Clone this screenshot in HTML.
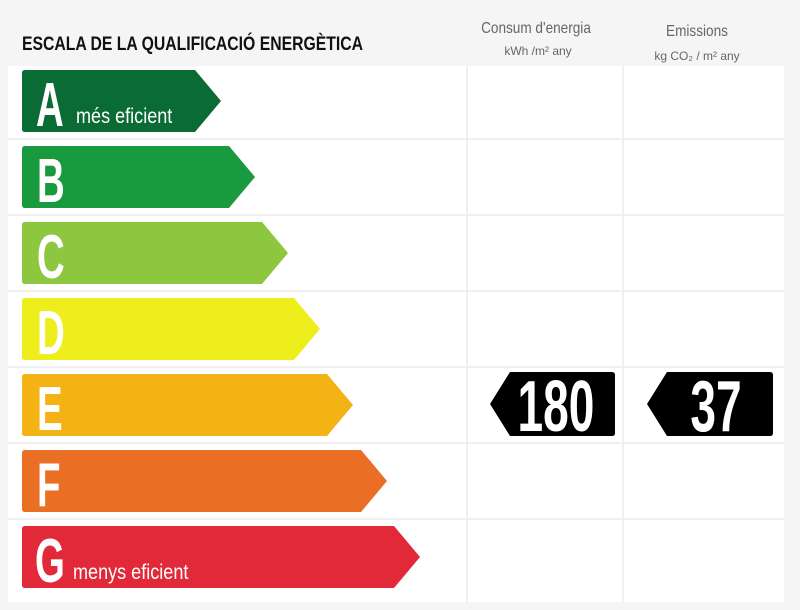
<!DOCTYPE html>
<html><head><meta charset="utf-8"><style>
body{margin:0;background:#fff}
svg{display:block}
text{font-family:"Liberation Sans",sans-serif}
</style></head><body>
<svg width="800" height="610" viewBox="0 0 800 610">
<rect width="800" height="610" fill="#f5f5f5"/>
<rect x="8" y="66" width="776" height="536" fill="#fff"/>
<g stroke="#f0f0f0" stroke-width="2">
<line x1="8" y1="139" x2="784" y2="139"/>
<line x1="8" y1="215" x2="784" y2="215"/>
<line x1="8" y1="291" x2="784" y2="291"/>
<line x1="8" y1="367" x2="784" y2="367"/>
<line x1="8" y1="443" x2="784" y2="443"/>
<line x1="8" y1="519" x2="784" y2="519"/>
<line x1="467" y1="66" x2="467" y2="602"/>
<line x1="623" y1="66" x2="623" y2="602"/>
</g>
<text x="22" y="50" font-size="19" font-weight="bold" transform="scale(0.83,1)" transform-origin="22 50" fill="#111">ESCALA DE LA QUALIFICACIÓ ENERGÈTICA</text>
<text x="536" y="33" font-size="16" fill="#666" text-anchor="middle" transform="scale(0.85,1)" transform-origin="536 33">Consum d'energia</text>
<text x="538" y="55" font-size="12" fill="#666" text-anchor="middle">kWh /m² any</text>
<text x="697" y="36" font-size="16" fill="#666" text-anchor="middle" transform="scale(0.85,1)" transform-origin="697 36">Emissions</text>
<text x="697" y="60" font-size="12" fill="#666" text-anchor="middle">kg CO₂ / m² any</text>
<g>
<path d="M25,70 H195 L221,101 L195,132 H25 Q22,132 22,129 V73 Q22,70 25,70Z" fill="#0b6b35"/>
<path d="M25,146 H229 L255,177 L229,208 H25 Q22,208 22,205 V149 Q22,146 25,146Z" fill="#1a9a3e"/>
<path d="M25,222 H262 L288,253 L262,284 H25 Q22,284 22,281 V225 Q22,222 25,222Z" fill="#8dc63f"/>
<path d="M25,298 H294 L320,329 L294,360 H25 Q22,360 22,357 V301 Q22,298 25,298Z" fill="#eeee1c"/>
<path d="M25,374 H327 L353,405 L327,436 H25 Q22,436 22,433 V377 Q22,374 25,374Z" fill="#f4b315"/>
<path d="M25,450 H361 L387,481 L361,512 H25 Q22,512 22,509 V453 Q22,450 25,450Z" fill="#ea6f25"/>
<path d="M25,526 H394 L420,557 L394,588 H25 Q22,588 22,585 V529 Q22,526 25,526Z" fill="#e1293a"/>
</g>
<g fill="#fff" font-weight="bold" font-size="62">
<text x="36" y="126" transform="scale(0.62,1)" transform-origin="36 126">A</text>
<text x="37" y="202" transform="scale(0.62,1)" transform-origin="37 202">B</text>
<text x="37" y="278" transform="scale(0.62,1)" transform-origin="37 278">C</text>
<text x="37" y="354" transform="scale(0.62,1)" transform-origin="37 354">D</text>
<text x="37" y="430" transform="scale(0.62,1)" transform-origin="37 430">E</text>
<text x="37" y="506" transform="scale(0.62,1)" transform-origin="37 506">F</text>
<text x="35" y="582" transform="scale(0.62,1)" transform-origin="35 582">G</text>
</g>
<text x="76" y="123" font-size="21" fill="#fff" transform="scale(0.86,1)" transform-origin="76 123">més eficient</text>
<text x="73" y="579" font-size="21" fill="#fff" transform="scale(0.86,1)" transform-origin="73 579">menys eficient</text>
<path d="M510,372 H612 Q615,372 615,375 V433 Q615,436 612,436 H510 L490,404Z" fill="#000"/>
<path d="M667,372 H770 Q773,372 773,375 V433 Q773,436 770,436 H667 L647,404Z" fill="#000"/>
<g fill="#fff" font-weight="bold" font-size="72" text-anchor="middle">
<text x="556" y="431" transform="scale(0.64,1)" transform-origin="556 431">180</text>
<text x="716" y="431" transform="scale(0.64,1)" transform-origin="716 431">37</text>
</g>
</svg>
</body></html>
